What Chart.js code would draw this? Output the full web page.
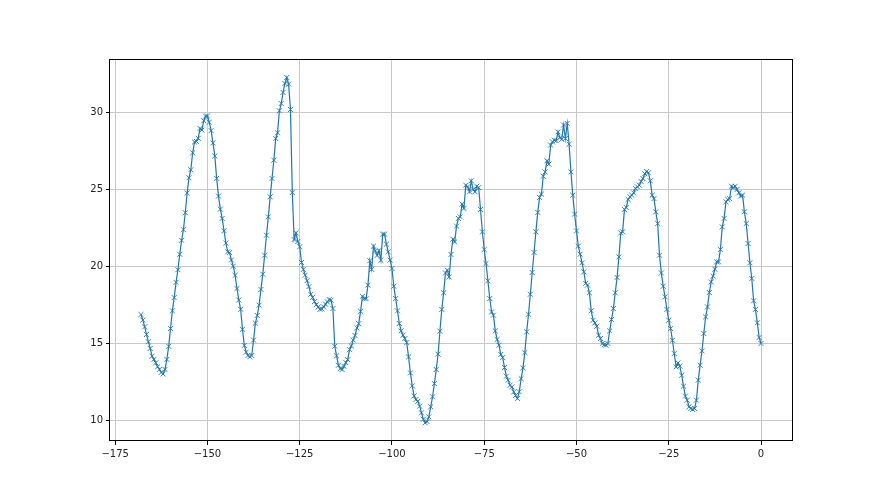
<!DOCTYPE html>
<html><head><meta charset="utf-8">
<script src="https://cdn.jsdelivr.net/npm/chart.js@4"></script>
<style>html,body{margin:0;padding:0;background:#fff;} #c{display:block}</style>
</head><body>
<canvas id="c" width="880" height="495"></canvas>
<script>
// Half-hourly readings, hour -168 to 0, split by day
const day1 = [16.86,16.5, 16.06,15.57, 15.09,14.66, 14.16,13.95, 13.73,13.47, 13.3,13.1, 13.0,13.3, 13.95,14.8, 15.95,17.1, 17.96,18.95, 19.77,20.77, 21.68,22.37, 23.47,24.75, 25.74,26.26, 27.36,28.06, 28.1,28.3, 28.94,28.84, 29.44,29.74, 29.75,29.35, 28.8,28.0, 27.15,25.7, 24.55,23.7, 23.1,22.3, 21.5,20.93];
const day2 = [20.88,20.4, 20.0,19.4, 18.55,17.8, 17.2,15.9, 14.85,14.42, 14.2,14.12, 14.2,15.2, 16.3,16.8, 17.47,18.49, 19.48,20.71, 22.01,23.2, 24.5,25.69, 26.88,28.29, 28.66,30.09, 30.56,31.28, 31.86,32.25, 31.82,30.17, 24.78,21.73, 22.16,21.6, 21.26,20.24, 19.79,19.42, 19.06,18.67, 18.17,17.98, 17.7,17.5];
const day3 = [17.35,17.2, 17.22,17.35, 17.53,17.68, 17.83,17.79, 17.25,14.8, 14.18,13.57, 13.35,13.29, 13.5,13.74, 13.93,14.58, 14.82,15.2, 15.5,15.99, 16.27,17.07, 18.04,17.89, 17.89,18.77, 20.35,19.79, 21.3,20.99, 20.7,21.02, 20.38,22.08, 22.08,21.43, 20.93,20.39, 19.85,18.7, 17.9,17.1, 16.28,15.8, 15.52,15.3];
const day4 = [15.04,14.11, 13.07,12.23, 11.58,11.34, 11.23,10.91, 10.48,10.06, 9.83,9.91, 10.22,10.87, 11.52,12.38, 13.29,14.29, 15.78,17.19, 18.27,19.56, 19.74,19.3, 20.76,21.75, 21.58,22.6, 23.1,23.2, 24.03,23.75, 25.26,25.15, 24.83,25.54, 24.98,24.83, 25.19,25.1, 23.68,22.23, 21.08,20.17, 19.05,17.9, 17.03,16.82];
const day5 = [15.8,15.24, 14.87,14.27, 14.07,13.42, 12.86,12.6, 12.27,12.16, 11.84,11.6, 11.41,11.84, 12.7,13.4, 14.39,15.74, 16.88,18.18, 19.59,20.89, 22.23,23.49, 24.46,24.68, 25.84,26.12, 26.84,26.62, 27.86,28.07, 28.18,28.15, 28.72,28.34, 28.23,29.16, 28.29,29.27, 27.92,26.12, 24.61,23.38, 22.29,21.3, 20.78,20.22];
const day6 = [19.63,18.88, 18.77,18.27, 17.1,16.49, 16.32,16.1, 15.52,15.3, 14.98,14.9, 14.87,14.98, 15.8,16.54, 17.25,18.27, 19.27,20.6, 22.16,22.23, 23.68,23.81, 24.33,24.5, 24.61,24.76, 25.05,25.15, 25.26,25.5, 25.69,26.0, 26.15,26.06, 25.54,24.61, 24.39,23.53, 22.77,20.71, 19.56,18.7, 18.01,17.19, 16.49,15.95];
const day7 = [15.19,14.33, 13.46,13.72, 13.51,12.92, 12.21,11.56, 11.3,10.87, 10.76,10.7, 10.76,11.3, 12.6,13.57, 14.5,15.63, 16.71,17.36, 18.29,18.98, 19.35,19.8, 20.28,20.28, 21.08,22.55, 23.1,24.18, 24.33,24.39, 25.19,25.1, 25.19,24.98, 24.76,24.55, 24.61,23.53, 22.77,21.47, 20.22,19.2, 17.75,17.19, 16.32,15.37, 14.98];

const firstHour = -168;
const hourStep = 0.5;
const xTicks = [-175, -150, -125, -100, -75, -50, -25, 0];
const yTicks = [10, 15, 20, 25, 30];

const temps = [].concat(day1, day2, day3, day4, day5, day6, day7);
const points = temps.map((v, i) => ({ x: firstHour + i * hourStep, y: v }));
const fmt = n => (n < 0 ? '\u2212' + Math.abs(n) : String(n));

const frame = {
  id: 'frame',
  afterDraw(chart) {
    const { ctx, chartArea: a } = chart;
    ctx.save();
    ctx.strokeStyle = '#000';
    ctx.lineWidth = 1;
    ctx.strokeRect(Math.round(a.left) - 0.5, Math.round(a.top) + 0.5,
                   Math.round(a.right - a.left) + 1, Math.round(a.bottom - a.top) - 1);
    ctx.restore();
  }
};

const tickFont = { family: 'DejaVu Sans', size: 10 };

new Chart(document.getElementById('c'), {
  type: 'line',
  data: {
    datasets: [{
      data: points,
      borderColor: '#1f77b4',
      borderWidth: 1.2,
      pointStyle: 'crossRot',
      pointRadius: 3.5,
      pointBorderWidth: 0.9,
      pointBorderColor: '#1f77b4',
      pointBackgroundColor: '#1f77b4',
      tension: 0,
      fill: false
    }]
  },
  options: {
    responsive: false,
    animation: false,
    devicePixelRatio: 1,
    layout: { padding: { left: 0, right: 88, top: 59, bottom: 0 } },
    plugins: { legend: { display: false }, tooltip: { enabled: false } },
    scales: {
      x: {
        type: 'linear', min: -176.4, max: 8.4,
        afterBuildTicks: s => { s.ticks = xTicks.map(v => ({ value: v })); },
        afterFit: s => { s.height = 54; },
        ticks: { callback: v => fmt(v), color: '#222', font: tickFont, padding: 3, maxRotation: 0, autoSkip: false },
        grid: { color: '#c8c8c8', lineWidth: 1, tickColor: '#000', tickLength: 4, drawTicks: true },
        border: { display: false }
      },
      y: {
        type: 'linear', min: 8.65, max: 33.45,
        afterBuildTicks: s => { s.ticks = yTicks.map(v => ({ value: v })); },
        afterFit: s => { s.width = 110; },
        ticks: { callback: v => fmt(v), color: '#222', font: tickFont, padding: 3, autoSkip: false },
        grid: { color: '#c8c8c8', lineWidth: 1, tickColor: '#000', tickLength: 4, drawTicks: true },
        border: { display: false }
      }
    }
  },
  plugins: [frame]
});
</script>
</body></html>
